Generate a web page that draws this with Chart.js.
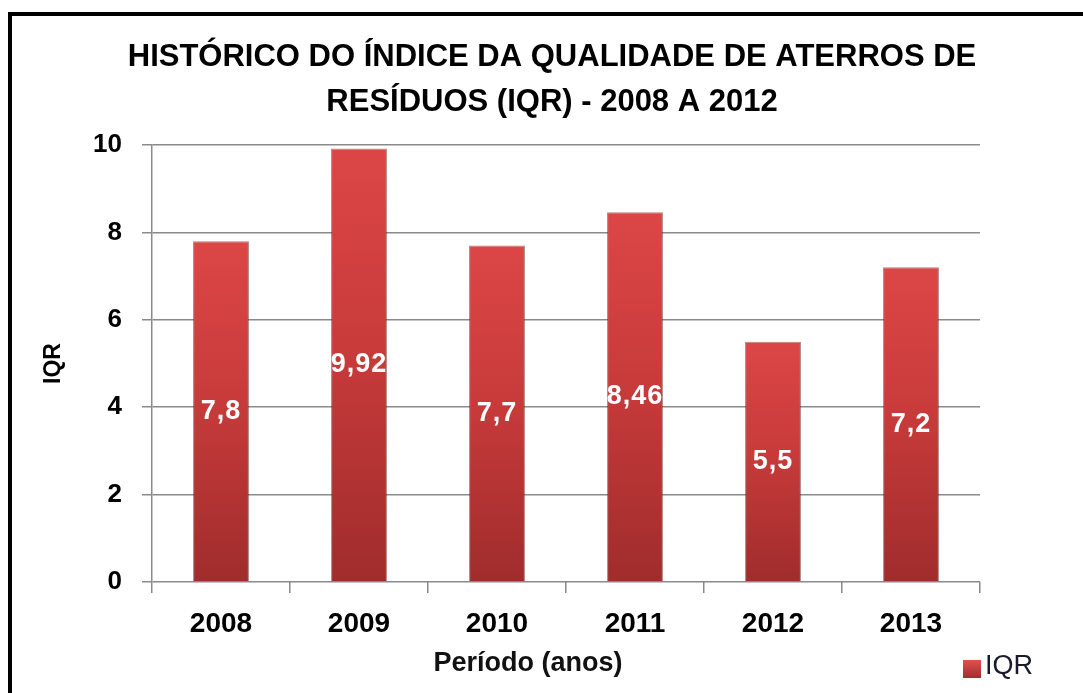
<!DOCTYPE html>
<html>
<head>
<meta charset="utf-8">
<script src="https://cdn.jsdelivr.net/npm/chart.js@4/dist/chart.umd.min.js"></script>
<style>
  html, body { margin: 0; padding: 0; background: #fff; overflow: hidden; }
  #wrap { position: relative; width: 1083px; height: 693px; }
  #frame {
    position: absolute; left: 8px; top: 12px; width: 1100px; height: 700px;
    border-top: 4px solid #000; border-left: 4px solid #000; pointer-events: none;
  }
  canvas { position: absolute; left: 0; top: 0; }
</style>
</head>
<body>
<div id="wrap">
  <canvas id="iqrChart" width="1083" height="693"></canvas>
  <div id="frame"></div>
</div>
<script>
// values
const years      = ['2008', '2009', '2010', '2011', '2012', '2013'];
const iqrValues  = [7.8, 9.92, 7.7, 8.46, 5.5, 7.2];
const yTicks     = [0, 2, 4, 6, 8, 10];
const titleLines = ['HISTÓRICO DO ÍNDICE DA QUALIDADE DE ATERROS DE', 'RESÍDUOS (IQR) - 2008 A 2012'];
const xTitle     = 'Período (anos)';
const yTitle     = 'IQR';
const seriesName = 'IQR';

const FONT = '"Liberation Sans", Arial, sans-serif';
const GRID = '#8a8a8a';

/* vertical shading per bar, bright top -> darker base */
function barFill(ctx) {
    const chart = ctx.chart;
    if (!chart.chartArea || !chart.scales.y) return '#c43c3c';
    const y = chart.scales.y;
    const top  = y.getPixelForValue(ctx.parsed ? ctx.parsed.y : 10);
    const base = y.getPixelForValue(0);
    const g = chart.ctx.createLinearGradient(0, top, 0, base);
    g.addColorStop(0,    '#dc4646');
    g.addColorStop(0.45, '#c93b3b');
    g.addColorStop(1,    '#a02c2c');
    return g;
}

/* white value labels in the middle of each bar (decimal comma) */
const valueLabels = {
    id: 'valueLabels',
    afterDatasetsDraw(chart) {
        const c = chart.ctx;
        const meta = chart.getDatasetMeta(0);
        c.save();
        c.font = 'bold 27px ' + FONT;
        c.fillStyle = '#fff';
        c.textAlign = 'center';
        c.textBaseline = 'middle';
        if ('letterSpacing' in c) c.letterSpacing = '1px';
        meta.data.forEach((bar, i) => {
            const txt = String(chart.data.datasets[0].data[i]).replace('.', ',');
            c.fillText(txt, bar.x, (bar.y + bar.base) / 2);
        });
        c.restore();
    }
};

/* x axis title sits left of centre and the legend sits bottom right, as in the source */
const bottomNotes = {
    id: 'bottomNotes',
    afterDraw(chart) {
        const c = chart.ctx;
        c.save();
        c.textBaseline = 'middle';
        c.textAlign = 'center';
        c.fillStyle = '#111';
        c.font = 'bold 27px ' + FONT;
        c.fillText(xTitle, 528, 664);

        const ds = chart.data.datasets[0];
        const g = c.createLinearGradient(0, 660, 0, 679);
        g.addColorStop(0, '#e05050');
        g.addColorStop(1, '#a02c2c');
        c.fillStyle = g;
        c.fillRect(963, 660, 18, 18);
        c.textAlign = 'left';
        c.fillStyle = '#1a1a2a';
        c.font = '27px ' + FONT;
        c.fillText(ds.label, 985, 667);
        c.restore();
    }
};

new Chart(document.getElementById('iqrChart').getContext('2d'), {
    type: 'bar',
    data: {
        labels: years,
        datasets: [{
            label: seriesName,
            data: iqrValues,
            backgroundColor: barFill,
            borderColor: 'rgba(110,25,25,0.55)',
            borderWidth: 1,
            categoryPercentage: 1,
            barPercentage: 0.405,
        }],
    },
    options: {
        responsive: false,
        animation: false,
        devicePixelRatio: 1,
        layout: { padding: { left: 21, right: 0, top: 0, bottom: 0 } },
        plugins: {
            legend: { display: false },
            tooltip: { enabled: false },
            title: {
                display: true,
                text: titleLines,
                color: '#000',
                font: { family: FONT, size: 31, weight: 'bold', lineHeight: '45px' },
                padding: { top: 35, bottom: 20 },
            },
        },
        scales: {
            x: {
                grid: {
                    drawOnChartArea: false,
                    drawTicks: true,
                    tickLength: 11,
                    color: GRID,
                    lineWidth: 1.5,
                },
                border: { display: false },
                ticks: {
                    color: '#000',
                    padding: 14,
                    font: { family: FONT, size: 28, weight: 'bold' },
                },
                afterFit: s => { s.height = 111; },
            },
            y: {
                min: 0,
                max: 10,
                afterBuildTicks: s => { s.ticks = yTicks.map(v => ({ value: v })); },
                grid: {
                    color: GRID,
                    lineWidth: 1.5,
                    tickLength: 10,
                },
                border: { display: true, color: GRID, width: 1.5 },
                ticks: {
                    color: '#000',
                    padding: 20,
                    font: { family: FONT, size: 26, weight: 'bold' },
                },
                title: {
                    display: true,
                    text: yTitle,
                    color: '#000',
                    font: { family: FONT, size: 23, weight: 'bold' },
                    padding: { top: 19 },
                },
                afterFit: s => { s.width = 131; },
            },
            // empty right axis only keeps the plot clear of the legend corner
            yPad: {
                position: 'right',
                display: true,
                grid: { display: false },
                border: { display: false },
                ticks: { display: false },
                afterFit: s => { s.width = 103; },
            },
        },
    },
    plugins: [valueLabels, bottomNotes],
});
</script>
</body>
</html>
